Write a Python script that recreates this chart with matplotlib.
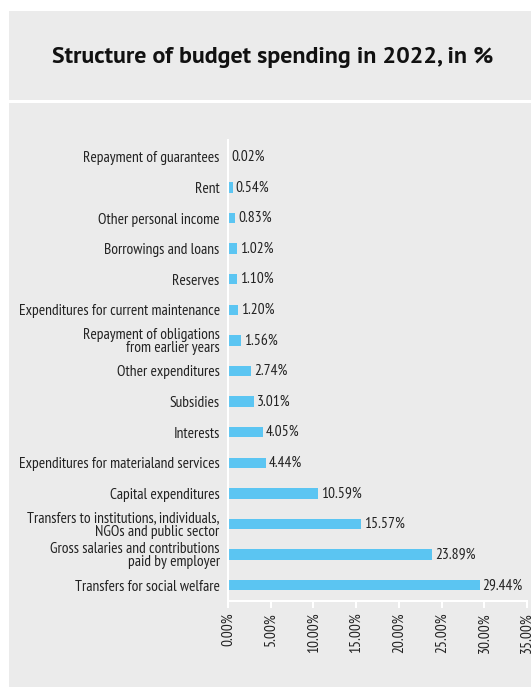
import matplotlib.pyplot as plt
from matplotlib.patches import Rectangle
import matplotlib.ticker as mticker

categories = [
    "Transfers for social welfare",
    "Gross salaries and contributions\npaid by employer",
    "Transfers to institutions, individuals,\nNGOs and public sector",
    "Capital expenditures",
    "Expenditures for materialand services",
    "Interests",
    "Subsidies",
    "Other expenditures",
    "Repayment of obligations\nfrom earlier years",
    "Expenditures for current maintenance",
    "Reserves",
    "Borrowings and loans",
    "Other personal income",
    "Rent",
    "Repayment of guarantees",
]
values = [29.44, 23.89, 15.57, 10.59, 4.44, 4.05, 3.01, 2.74, 1.56, 1.20, 1.10, 1.02, 0.83, 0.54, 0.02]
xticks = [0, 5, 10, 15, 20, 25, 30, 35]

W, H = 531, 687
bg = "#ebebeb"
bar_color = "#5bc5f2"
font = ["PT Sans Narrow", "DejaVu Sans"]
fs = 11.2

fig = plt.figure(figsize=(W / 100, H / 100), dpi=100, facecolor="white")

# gray panels
fig.patches.append(Rectangle((9 / W, 1 - 100 / H), 1, 89 / H, transform=fig.transFigure,
                             facecolor=bg, edgecolor="none", zorder=-2))
fig.patches.append(Rectangle((9 / W, 0), 1, 1 - 103 / H, transform=fig.transFigure,
                             facecolor=bg, edgecolor="none", zorder=-2))

fig.text(273 / W, 1 - 58 / H, "Structure of budget spending in 2022, in %",
         ha="center", va="center", fontsize=17.3, fontweight="bold",
         family=["PT Sans", "DejaVu Sans"], color="#111111")

left, right = 228 / W, 527 / W
top, bottom = 1 - 140 / H, 1 - 601 / H
ax = fig.add_axes([left, bottom, right - left, top - bottom])
ax.patch.set_alpha(0)

y = list(range(len(categories)))
ax.barh(y, values, height=0.34, color=bar_color, zorder=2)
for yi, v in zip(y, values):
    ax.text(v + 0.35, yi, f"{v:.2f}%", va="center", ha="left", fontsize=fs,
            family=font, color="#222222")

ax.set_xlim(0, 35)
ax.set_ylim(-0.52, 14.55)
ax.set_yticks(y)
ax.set_yticklabels(categories, family=font, fontsize=fs, color="#222222",
                   linespacing=0.92)
ax.set_xticks(xticks)
ax.xaxis.set_major_formatter(mticker.FuncFormatter(lambda v, p: f"{v:.2f}%"))
for lab in ax.get_xticklabels():
    lab.set_rotation(90)
    lab.set_family(font)
    lab.set_fontsize(fs)
    lab.set_color("#222222")

ax.tick_params(axis="y", length=0, pad=6)
ax.tick_params(axis="x", length=5, width=1.5, color="white", pad=3)
for side in ["top", "right"]:
    ax.spines[side].set_visible(False)
for side in ["left", "bottom"]:
    ax.spines[side].set_color("white")
    ax.spines[side].set_linewidth(1.5)

fig.savefig("out.png", dpi=100, facecolor="white")
